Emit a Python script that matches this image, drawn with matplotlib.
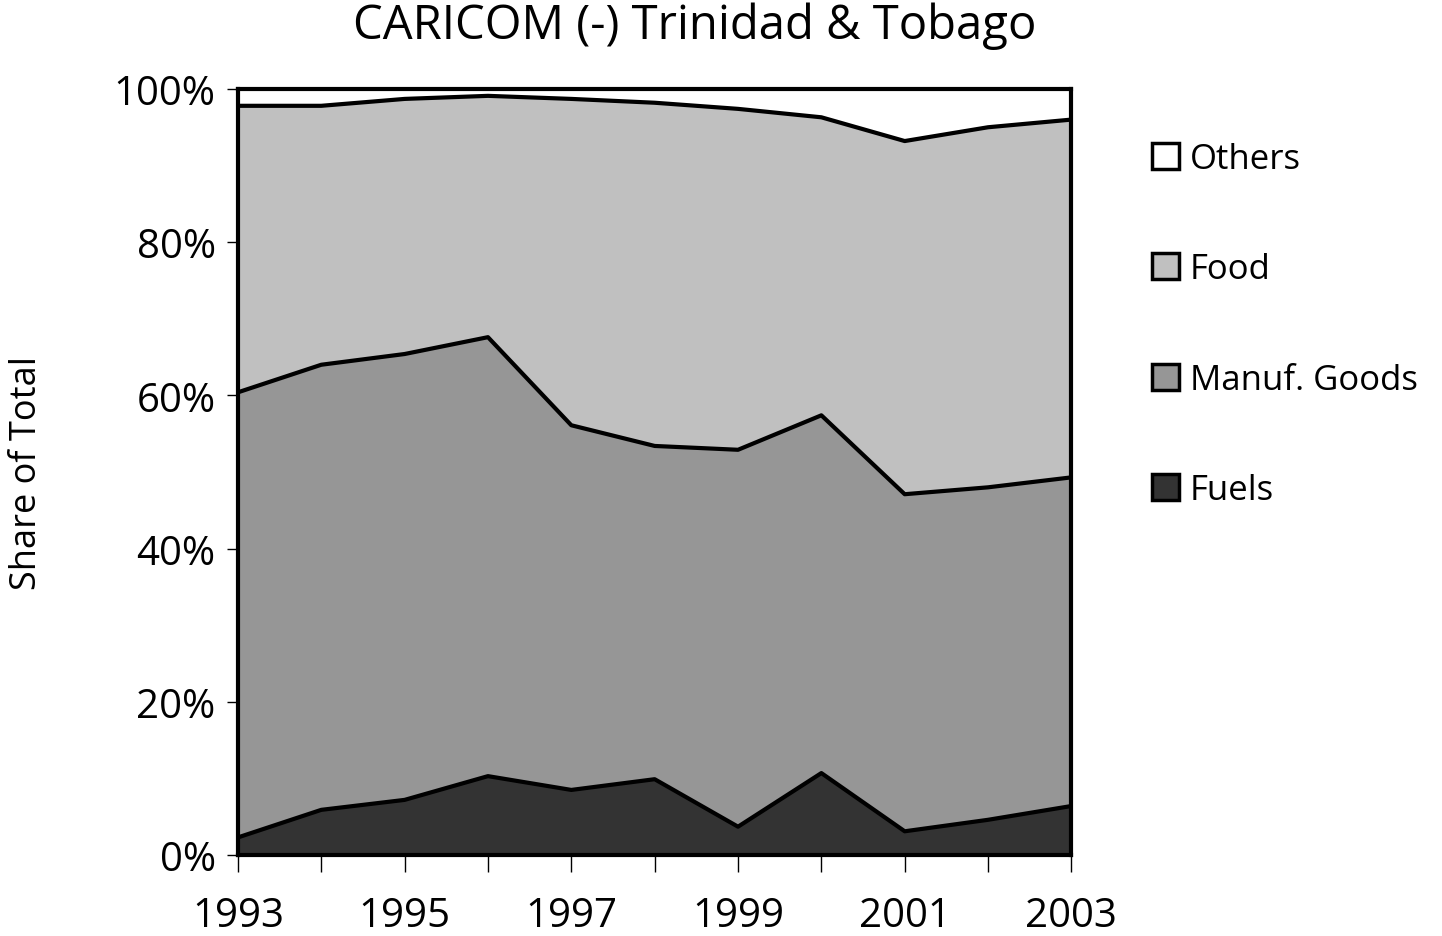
import matplotlib
matplotlib.use("Agg")
import matplotlib.pyplot as plt
from matplotlib.patches import Patch
import numpy as np

plt.rcParams['font.family'] = ['Open Sans', 'DejaVu Sans']

years = [1993, 1994, 1995, 1996, 1997, 1998, 1999, 2000, 2001, 2002, 2003]
# shares in percent
fuels = [2.3, 5.9, 7.2, 10.3, 8.5, 9.9, 3.7, 10.7, 3.1, 4.6, 6.4]
manuf = [58.1, 58.1, 58.2, 57.3, 47.6, 43.5, 49.2, 46.7, 44.0, 43.4, 42.9]
food = [37.4, 33.8, 33.3, 31.5, 42.6, 44.8, 44.5, 38.9, 46.1, 47.0, 46.7]
others = [2.2, 2.2, 1.3, 0.9, 1.3, 1.8, 2.6, 3.7, 6.8, 5.0, 4.0]

series = [fuels, manuf, food, others]
names = ["Fuels", "Manuf. Goods", "Food", "Others"]
colors = ["#333333", "#969696", "#c0c0c0", "#ffffff"]

fig = plt.figure(figsize=(14.42, 9.37), dpi=100)
ax = fig.add_axes([0.165, 0.0864, 0.578, 0.8176])

x = np.array(years)
base = np.zeros(len(years))
for vals, col in zip(series, colors):
    top = base + np.array(vals)
    ax.fill_between(x, base, top, facecolor=col, edgecolor="none")
    base = top
# border lines between layers
base = np.zeros(len(years))
for vals in series[:-1]:
    base = base + np.array(vals)
    ax.plot(x, base, color="black", lw=3)

ax.set_xlim(1993, 2003)
ax.set_ylim(0, 100)
ax.set_xticks(years)
ax.set_xticklabels([str(y) if (y - 1993) % 2 == 0 else "" for y in years])
ax.set_yticks(range(0, 101, 20))
ax.set_yticklabels([f"{v}%" for v in range(0, 101, 20)])
for s in ax.spines.values():
    s.set_linewidth(3)
ax.tick_params(axis="both", labelsize=29, width=1, color="black")
ax.tick_params(axis="x", length=12, pad=17)
ax.tick_params(axis="y", length=8, pad=8)

ax.set_ylabel("Share of Total", fontsize=26)
ax.yaxis.set_label_coords(-0.232, 0.5)
fig.text(0.482, 0.972, "CARICOM (-) Trinidad & Tobago", fontsize=34,
         ha="center", va="center")

handles = [Patch(facecolor=c, edgecolor="black", linewidth=2.5) for c in colors[::-1]]
fig.legend(handles, names[::-1], loc="upper left", bbox_to_anchor=(0.787, 0.866),
           frameon=False, fontsize=25, handlelength=0.78, handleheight=0.78,
           handletextpad=0.3, labelspacing=2.2, borderpad=0)

fig.savefig("out.png", dpi=100)
